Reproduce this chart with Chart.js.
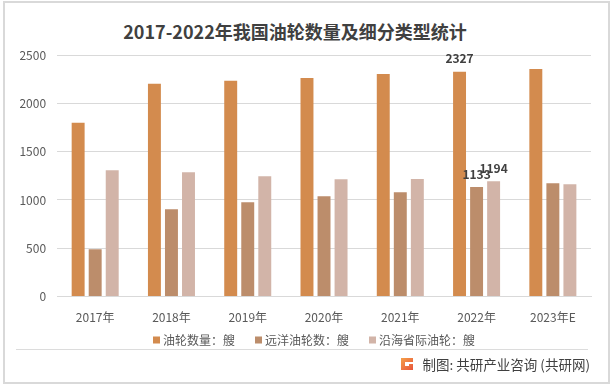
<!DOCTYPE html>
<html>
<head>
<meta charset="utf-8">
<script src="https://cdn.jsdelivr.net/npm/chart.js@4.4.0/dist/chart.umd.min.js"></script>
<style>
  html, body { margin: 0; padding: 0; background: #fff; }
  #wrap { position: relative; width: 614px; height: 388px; overflow: hidden; font-family: "Noto Sans CJK SC", "Noto Sans", sans-serif; }
  #frame { position: absolute; left: 3px; top: 1px; width: 603px; height: 379px; border: 2px solid #d9d9d9; }
  #title { position: absolute; left: 0; width: 590px; top: 19px; text-align: center; font-size: 18px; font-weight: bold; color: #404040; line-height: 24px; }
  #sep { position: absolute; left: 16px; top: 349px; width: 572px; height: 1px; background: #dcdcdc; }
  #source { position: absolute; right: 24px; top: 355px; font-size: 13.5px; color: #404040; line-height: 18px; display: flex; align-items: center; }
  #logo { width: 14px; height: 14px; margin-right: 9px; }
  canvas { position: absolute; left: 0; top: 0; }
</style>
</head>
<body>
<div id="wrap">
  <div id="frame"></div>
  <div id="title">2017-2022年我国油轮数量及细分类型统计</div>
  <canvas id="chart" width="614" height="388"></canvas>
  <div id="sep"></div>
  <div id="source">
    <svg id="logo" viewBox="0 0 14 14">
      <defs><linearGradient id="g" x1="0" y1="0" x2="1" y2="1"><stop offset="0" stop-color="#f5a04a"/><stop offset="1" stop-color="#e8553a"/></linearGradient></defs>
      <path d="M1 1h12v4H5v4h4V7h4v6H1z" fill="url(#g)"/>
    </svg>
    <span>制图: 共研产业咨询 (共研网)</span>
  </div>
</div>
<script>
// 年份
const years = ['2017年', '2018年', '2019年', '2020年', '2021年', '2022年', '2023年E'];
// 油轮数量（艘）
const totalTankers = [1800, 2202, 2233, 2263, 2304, 2327, 2356];
// 远洋油轮数（艘）
const oceanTankers = [490, 905, 977, 1039, 1080, 1133, 1173];
// 沿海省际油轮（艘）
const coastalTankers = [1308, 1286, 1245, 1214, 1216, 1194, 1163];
// 只给2022年标数值
const labeledIndex = 5;

const yTicks = [0, 500, 1000, 1500, 2000, 2500];

const FONT = '"Noto Sans CJK SC", sans-serif';

// 在指定年份的柱子上方写数值
const valueLabels = {
  id: 'valueLabels',
  afterDatasetsDraw(chart) {
    const ctx = chart.ctx;
    ctx.save();
    ctx.font = 'bold 12px ' + FONT;
    ctx.fillStyle = '#404040';
    ctx.textAlign = 'center';
    ctx.textBaseline = 'middle';
    chart.data.datasets.forEach((ds, i) => {
      const bar = chart.getDatasetMeta(i).data[labeledIndex];
      if (!bar) return;
      ctx.fillText(ds.data[labeledIndex], bar.x, bar.y - 13);
    });
    ctx.restore();
  }
};

// 图例：小方块 + 文字，间距比默认图例紧凑
const bottomLegend = {
  id: 'bottomLegend',
  afterDraw(chart) {
    const ctx = chart.ctx;
    const box = 7, textGap = 3, itemGap = 20, centerX = 314, y = 340;
    ctx.save();
    ctx.font = '12px ' + FONT;
    ctx.textBaseline = 'middle';
    const items = chart.data.datasets.map(ds => ({
      text: ds.label, color: ds.backgroundColor, w: ctx.measureText(ds.label).width
    }));
    const total = items.reduce((s, it) => s + box + textGap + it.w, 0) + itemGap * (items.length - 1);
    let x = centerX - total / 2;
    items.forEach(it => {
      ctx.fillStyle = it.color;
      ctx.fillRect(x, y - box / 2, box, box);
      x += box + textGap;
      ctx.fillStyle = '#595959';
      ctx.fillText(it.text, x, y);
      x += it.w + itemGap;
    });
    ctx.restore();
  }
};

new Chart(document.getElementById('chart').getContext('2d'), {
  type: 'bar',
  data: {
    labels: years,
    datasets: [
      { label: '油轮数量：艘', data: totalTankers, backgroundColor: '#d38b4e' },
      { label: '远洋油轮数：艘', data: oceanTankers, backgroundColor: '#bc8d6b' },
      { label: '沿海省际油轮：艘', data: coastalTankers, backgroundColor: '#d2b4a8' }
    ]
  },
  options: {
    responsive: false,
    animation: false,
    layout: { padding: { left: 8.4, right: 23, top: 55, bottom: 58 } },
    datasets: {
      bar: { categoryPercentage: 0.67, barPercentage: 0.76 }
    },
    plugins: {
      legend: { display: false },
      title: { display: false },
      tooltip: { enabled: false }
    },
    scales: {
      x: {
        grid: { display: false },
        border: { color: '#d9d9d9' },
        ticks: {
          color: '#595959',
          padding: 5.5,
          font: { size: 12, family: FONT }
        }
      },
      y: {
        min: 0,
        max: 2500,
        afterBuildTicks(axis) { axis.ticks = yTicks.map(v => ({ value: v })); },
        grid: { color: '#d9d9d9', drawTicks: false },
        border: { display: false },
        ticks: {
          color: '#595959',
          padding: 11,
          callback: v => String(v),
          font: { size: 12, family: FONT }
        }
      }
    }
  },
  plugins: [valueLabels, bottomLegend]
});
</script>
</body>
</html>
